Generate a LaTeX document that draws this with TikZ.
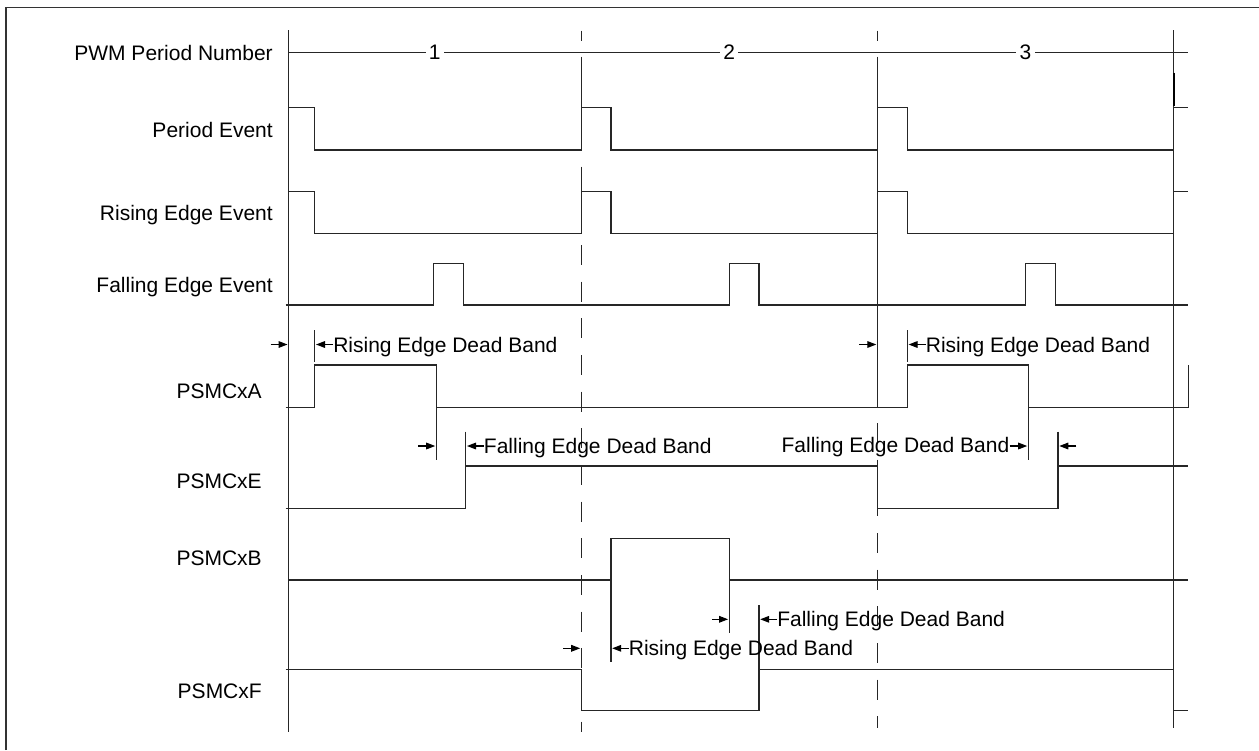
\documentclass[tikz,border=0pt]{standalone}
\usepackage{fontspec}
\setmainfont{Liberation Sans}
\usetikzlibrary{arrows.meta,calc}
\begin{document}
\begin{tikzpicture}[x=0.75pt,y=-0.75pt,
  wave/.style={line width=0.8pt, line join=miter, draw=black!85},
  guide/.style={line width=0.8pt, draw=black!85},
  dashguide/.style={line width=0.8pt, draw=black!85, dash pattern=on 15pt off 12.5pt},
  lbl/.style={font=\fontsize{15.75pt}{18pt}\selectfont, inner sep=0pt},
  arr/.style={line width=0.8pt, -{Triangle[length=6.75pt,width=5pt]}}]
\useasboundingbox (0,0) rectangle (1259,750);
% frame (top and left only visible)
\draw[line width=1pt, draw=black!80] (6,750) -- (6,7.3) -- (1259,7.3);

% signal labels
\node[lbl, anchor=base east] (nPWM) at (273,60.5) {PWM Period Number};
\node[lbl, anchor=base east] (nPE) at (273,137.5) {Period Event};
\node[lbl, anchor=base east] (nRE) at (273,220) {Rising Edge Event};
\node[lbl, anchor=base east] (nFE) at (273,292.5) {Falling Edge Event};
\node[lbl, anchor=base east] (nA) at (262,398.3) {PSMCxA};
\node[lbl, anchor=base east] (nE) at (262,488.3) {PSMCxE};
\node[lbl, anchor=base east] (nB) at (262,565.7) {PSMCxB};
\node[lbl, anchor=base east] (nF) at (262,698.3) {PSMCxF};

% period boundary lines
\draw[guide] (288.6,30) -- (288.6,731.7);
\draw[guide] (581.3,30.7) -- (581.3,40.7);
\draw[guide] (581.3,56.7) -- (581.3,150);
\draw[guide] (581.3,166.7) -- (581.3,233.3);
\draw[dashguide] (581.3,245) -- (581.3,731.7);
\draw[guide] (877.4,30.7) -- (877.4,40.7);
\draw[guide] (877.4,56.7) -- (877.4,407);
\draw[dashguide] (877.4,423) -- (877.4,728);
\draw[guide] (1173.8,30) -- (1173.8,728);
\draw[line width=1.6pt] (1173.8,72.7) -- (1173.8,106);

% PWM period number
\draw[wave] (288.6,52.7) -- (1188.3,52.7);
\node[lbl, fill=white, inner xsep=2.5pt, inner ysep=1pt] (p1) at (434.7,52) {1};
\node[lbl, fill=white, inner xsep=2.5pt, inner ysep=1pt] (p2) at (729.2,52) {2};
\node[lbl, fill=white, inner xsep=2.5pt, inner ysep=1pt] (p3) at (1025.5,52) {3};

% Period Event
\draw[wave] (288.6,107.7) -- (314.7,107.7) -- (314.7,150) -- (581.3,150) -- (581.3,107.7)
  -- (611,107.7) -- (611,150) -- (877.4,150) -- (877.4,107.7) -- (907.3,107.7)
  -- (907.3,150) -- (1173.8,150) -- (1173.8,107.7) -- (1188.3,107.7);
% Rising Edge Event
\draw[wave] (288.6,191.7) -- (314.7,191.7) -- (314.7,233.3) -- (581.3,233.3) -- (581.3,191.7)
  -- (611,191.7) -- (611,233.3) -- (877.4,233.3) -- (877.4,191.7) -- (907.3,191.7)
  -- (907.3,233.3) -- (1173.8,233.3) -- (1173.8,191.7) -- (1188.3,191.7);
% Falling Edge Event
\draw[wave] (285.7,305) -- (433.5,305) -- (433.5,263.3) -- (463.3,263.3) -- (463.3,305)
  -- (729.2,305) -- (729.2,263.3) -- (759,263.3) -- (759,305)
  -- (1025.5,305) -- (1025.5,263.3) -- (1055.2,263.3) -- (1055.2,305) -- (1188.3,305);

% PSMCxA
\draw[wave] (285.7,407.3) -- (314.7,407.3) -- (314.7,365) -- (436.3,365) -- (436.3,407.3)
  -- (907.3,407.3) -- (907.3,365) -- (1028.3,365) -- (1028.3,407.3) -- (1188.3,407.3) -- (1188.3,365);
\draw[wave] (436.3,407.3) -- (436.3,460);
\draw[wave] (1028.3,407.3) -- (1028.3,460);
% PSMCxE
\draw[wave] (285.7,508.3) -- (465.7,508.3) -- (465.7,466) -- (877.4,466) -- (877.4,508.3)
  -- (1058,508.3) -- (1058,466) -- (1188.3,466);
\draw[wave] (465.7,431.7) -- (465.7,466);
\draw[wave] (1058,431.7) -- (1058,466);
% PSMCxB
\draw[wave] (288.6,580) -- (611,580) -- (611,538.3) -- (729.2,538.3) -- (729.2,580) -- (1188.3,580);
\draw[wave] (611,580) -- (611,661.7);
\draw[wave] (729.2,580) -- (729.2,633.3);
% PSMCxF
\draw[wave] (285.7,669.3) -- (581.3,669.3) -- (581.3,710.7) -- (759,710.7) -- (759,669.3)
  -- (1173.8,669.3) -- (1173.8,710.7) -- (1188.3,710.7);
\draw[wave] (759,605) -- (759,669.3);

% dead band ticks
\draw[wave] (314.7,330) -- (314.7,361.7);
\draw[wave] (907.3,330) -- (907.3,361.7);

% dead band annotations
\coordinate (a1in) at (287.5,344.5);
\coordinate (a1out) at (316,344.5);
\draw[arr] ($(a1in)+(-17,0)$) -- (a1in);
\node[lbl, anchor=base west] (t1) at (333,352.5) {Rising Edge Dead Band};
\draw[arr] (t1.west |- a1out) -- (a1out);

\coordinate (a2in) at (876.3,344.5);
\coordinate (a2out) at (908.6,344.5);
\draw[arr] ($(a2in)+(-17,0)$) -- (a2in);
\node[lbl, anchor=base west] (t2) at (925.6,352.5) {Rising Edge Dead Band};
\draw[arr] (t2.west |- a2out) -- (a2out);

\coordinate (a3in) at (435.2,446);
\coordinate (a3out) at (467,446);
\draw[arr] ($(a3in)+(-17,0)$) -- (a3in);
\node[lbl, anchor=base west] (t3) at (483.7,453.3) {Falling Edge Dead Band};
\draw[arr] (t3.west |- a3out) -- (a3out);

\coordinate (a4in) at (1027.2,446);
\coordinate (a4out) at (1059.3,446);
\node[lbl, anchor=base east] (t4) at (1009.5,452.7) {Falling Edge Dead Band};
\draw[arr] (t4.east |- a4in) -- (a4in);
\draw[arr] ($(a4out)+(17,0)$) -- (a4out);

\coordinate (a5in) at (728.1,619.3);
\coordinate (a5out) at (760.2,619.3);
\draw[arr] ($(a5in)+(-16,0)$) -- (a5in);
\node[lbl, anchor=base west] (t5) at (777,626.6) {Falling Edge Dead Band};
\draw[arr] (t5.west |- a5out) -- (a5out);

\coordinate (a6in) at (580.2,648.3);
\coordinate (a6out) at (612.2,648.3);
\draw[arr] ($(a6in)+(-17,0)$) -- (a6in);
\node[lbl, anchor=base west] (t6) at (628.6,655.7) {Rising Edge Dead Band};
\draw[arr] (t6.west |- a6out) -- (a6out);
\end{tikzpicture}
\end{document}
